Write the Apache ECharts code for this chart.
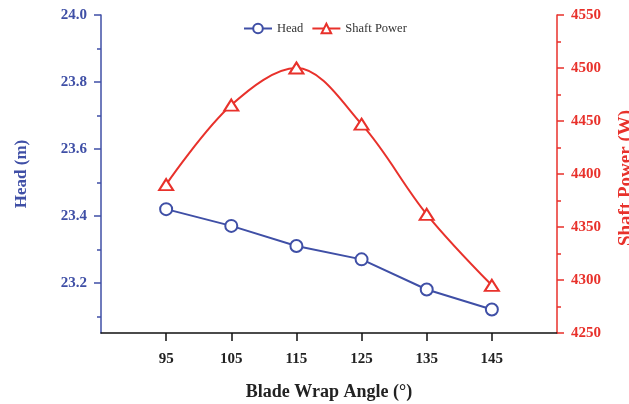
<!DOCTYPE html>
<html><head><meta charset="utf-8">
<script src="https://cdn.jsdelivr.net/npm/echarts@6/dist/echarts.min.js"></script>
<style>html,body{margin:0;padding:0;background:#fff}#c{width:629px;height:404px}</style>
</head><body><div id="c"></div>
<script>
const angles = [95, 105, 115, 125, 135, 145];
const head = [23.42, 23.37, 23.31, 23.27, 23.18, 23.12];
const shaftPower = [4390, 4465, 4500, 4447, 4362, 4295];
const xTicks = [95, 105, 115, 125, 135, 145];
const headTicks = [23.2, 23.4, 23.6, 23.8, 24.0];
const headMinorTicks = [23.1, 23.3, 23.5, 23.7, 23.9];

const BLUE = '#3f4fa6', RED = '#e8312b';
const FONT = '"Liberation Serif", "Times New Roman", serif';
const chart = echarts.init(document.getElementById('c'));
chart.setOption({
  animation: false,
  backgroundColor: '#fff',
  grid: {left: 101, right: 72, top: 15, bottom: 71, outerBoundsMode: 'none', containLabel: false},
  legend: {
    top: 17, left: 238, itemWidth: 28, itemHeight: 12, itemGap: 8,
    textStyle: {fontFamily: FONT, fontSize: 12.5, color: '#333'},
    data: ['Head', 'Shaft Power']
  },
  xAxis: {
    type: 'value', min: 85, max: 155,
    name: 'Blade Wrap Angle (°)', nameLocation: 'middle', nameGap: 50,
    nameTextStyle: {fontFamily: FONT, fontSize: 18, fontWeight: 'bold', color: '#222'},
    axisLine: {show: true, lineStyle: {color: '#111', width: 1.5}},
    axisTick: {show: true, length: 8, lineStyle: {color: '#111', width: 1.5}, customValues: xTicks},
    axisLabel: {customValues: xTicks, margin: 19, fontFamily: FONT, fontSize: 15, fontWeight: 'bold', color: '#222'},
    splitLine: {show: false}
  },
  yAxis: [
    {
      type: 'value', min: 23.05, max: 24.0, position: 'left',
      name: 'Head (m)', nameLocation: 'middle', nameGap: 71,
      nameTextStyle: {fontFamily: FONT, fontSize: 17, fontWeight: 'bold', color: BLUE},
      axisLine: {show: true, lineStyle: {color: BLUE, width: 1.5}},
      axisTick: {show: true, length: 7, lineStyle: {color: BLUE, width: 1.5}, customValues: headTicks},
      axisLabel: {customValues: headTicks, margin: 14, fontFamily: FONT, fontSize: 15, fontWeight: 'bold', color: BLUE,
        formatter: v => v.toFixed(1)},
      splitLine: {show: false}
    },
    {
      type: 'value', min: 4250, max: 4550, interval: 50, position: 'right',
      name: 'Shaft Power (W)', nameLocation: 'middle', nameGap: 60, nameRotate: 90,
      nameTextStyle: {fontFamily: FONT, fontSize: 19, fontWeight: 'bold', color: RED, padding: [0, 8, 0, 0]},
      axisLine: {show: true, lineStyle: {color: RED, width: 1.5}},
      axisTick: {show: true, length: 7, lineStyle: {color: RED, width: 1.5}},
      minorTick: {show: true, splitNumber: 2, length: 4, lineStyle: {color: RED, width: 1.5}},
      axisLabel: {margin: 14, fontFamily: FONT, fontSize: 15, fontWeight: 'bold', color: RED,
        formatter: v => String(v)},
      splitLine: {show: false}
    },
    {
      type: 'value', min: 23.05, max: 24.0, position: 'left',
      axisLine: {show: false},
      axisTick: {show: true, length: 4, lineStyle: {color: BLUE, width: 1.5}, customValues: headMinorTicks},
      axisLabel: {show: false},
      splitLine: {show: false}
    }
  ],
  series: [
    {
      name: 'Head', type: 'line', yAxisIndex: 0,
      data: angles.map((a, i) => [a, head[i]]),
      symbol: 'circle', symbolSize: 12,
      lineStyle: {color: BLUE, width: 2},
      itemStyle: {color: '#fff', borderColor: BLUE, borderWidth: 2},
      z: 3
    },
    {
      name: 'Shaft Power', type: 'line', yAxisIndex: 1, smooth: 0.35,
      data: angles.map((a, i) => [a, shaftPower[i]]),
      symbol: 'triangle', symbolSize: [14, 11],
      lineStyle: {color: RED, width: 2},
      itemStyle: {color: '#fff', borderColor: RED, borderWidth: 2},
      z: 2
    }
  ]
});
</script></body></html>
